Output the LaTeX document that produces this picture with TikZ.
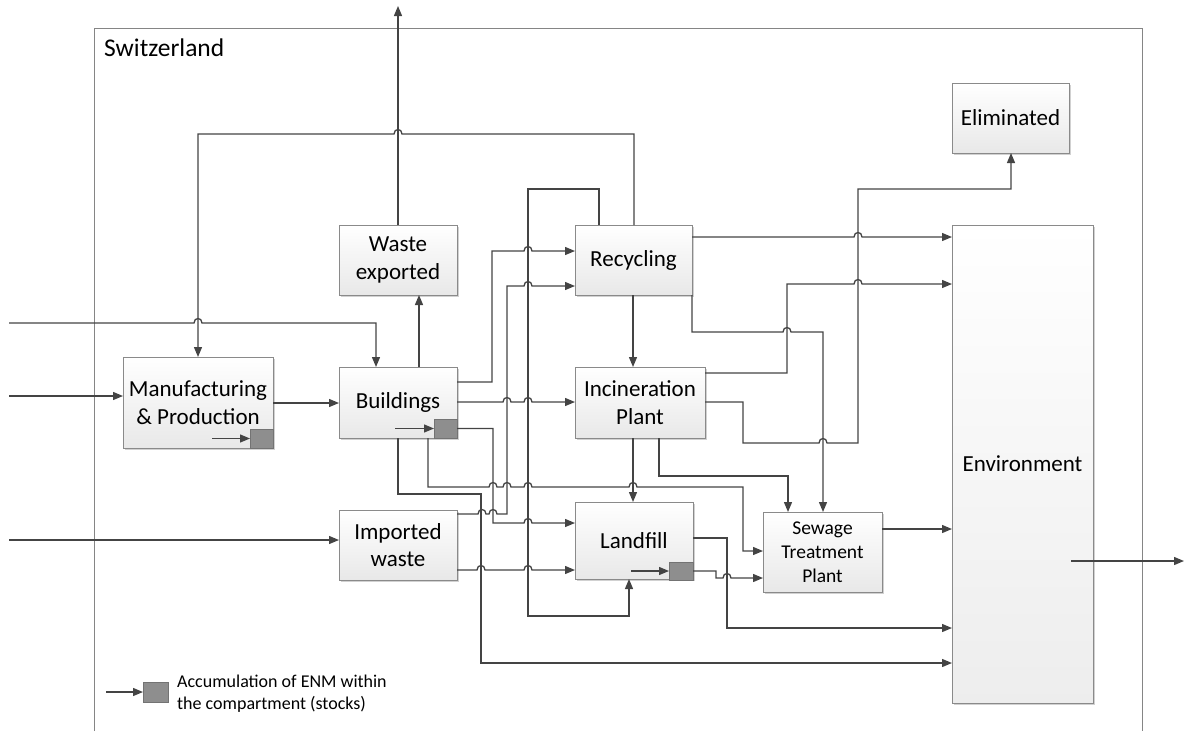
\documentclass[tikz,border=0pt]{standalone}
\usepackage{fontspec}
\setmainfont{Carlito}
\usetikzlibrary{arrows.meta,shadows}
\definecolor{ln}{HTML}{444444}
\definecolor{bd}{HTML}{8A8A8A}
\definecolor{stk}{HTML}{8E8E8E}
\definecolor{frm}{HTML}{858585}
\newcommand\hopr[2]{-- (#1-4,#2) .. controls (#1-4,#2-6) and (#1+4,#2-6) .. (#1+4,#2)}
\newcommand\hopl[2]{-- (#1+4,#2) .. controls (#1+4,#2-6) and (#1-4,#2-6) .. (#1-4,#2)}
\begin{document}
\begin{tikzpicture}[x=1pt,y=-1pt,
  box/.style={draw=bd,line width=0.9pt,top color=white,bottom color=black!9,
    anchor=north west,outer sep=0pt,inner sep=2pt,align=center,
    font=\fontsize{23}{27.5}\selectfont,
    drop shadow={shadow xshift=1.5pt,shadow yshift=-1.5pt,opacity=0.18,fill=black}},
  stock/.style={draw=black!55,fill=stk,line width=0.8pt,anchor=north west,
    minimum width=23pt,minimum height=19pt,inner sep=0pt,outer sep=0pt},
  flow/.style={draw=ln,line width=1.3pt,-{Triangle[length=10pt,width=8pt]}}]
\useasboundingbox (0,0) rectangle (1185,731);
% frame
\draw[frm,line width=1pt] (94,731) -- (94,28) -- (1142,28) -- (1142,731);
\node[anchor=base west,font=\fontsize{25.5}{30}\selectfont,inner sep=0pt] (ch) at (104,56) {Switzerland};
% boxes
\node[box,minimum width=150pt,minimum height=91pt] (mfg) at (123,357) {Manufacturing\\\& Production};
\node[box,minimum width=118pt,minimum height=71pt] (bld) at (339,367) {Buildings};
\node[box,minimum width=118pt,minimum height=70pt] (wex) at (339,225) {Waste\\exported};
\node[box,minimum width=118pt,minimum height=70pt] (imp) at (339,510) {Imported\\waste};
\node[box,minimum width=117pt,minimum height=70pt] (rec) at (575,225) {Recycling};
\node[box,minimum width=130pt,minimum height=71pt] (inc) at (575,367) {Incineration\\Plant};
\node[box,minimum width=118pt,minimum height=77pt] (lf) at (575,502) {Landfill};
\node[box,minimum width=119pt,minimum height=80pt,font=\fontsize{19.5}{24}\selectfont] (stp) at (763,512) {Sewage\\Treatment\\Plant};
\node[box,minimum width=141pt,minimum height=478pt,top color=white,bottom color=black!7] (env) at (952,225) {Environment};
\node[box,minimum width=117pt,minimum height=70pt] (elim) at (952,83) {Eliminated};
% stocks
\node[stock] (sMfg) at (250,429) {};
\node[stock] (sBld) at (434,419) {};
\node[stock,minimum width=24pt,minimum height=18pt] (sLf) at (669,562) {};
\node[stock,minimum width=25pt,minimum height=20pt] (sLeg) at (143,682) {};
\node[anchor=west,align=left,inner sep=0pt,font=\fontsize{18}{22}\selectfont] (legt) at (177,694) {Accumulation of ENM within\\the compartment (stocks)};
% free ends
\coordinate (i1) at (9,323);
\coordinate (i2) at (9,396);
\coordinate (i3) at (9,540);
\coordinate (to) at (398,6);
\coordinate (eo) at (1071,561);
\coordinate (eoe) at (1184,561);
\coordinate (a1) at (212,438.5);
\coordinate (a2) at (395,428.5);
\coordinate (a3) at (631,571);
\coordinate (a4) at (106,692);
% stock arrows
\draw[flow] (a1) -- (sMfg.west);
\draw[flow] (a2) -- (sBld.west);
\draw[flow] (a3) -- (sLf.west);
\draw[flow] (a4) -- (sLeg.west);
% connectors
\draw[flow] (i1) \hopr{198}{323} -- (376,323) -- (bld.north -| 376,0);
\draw[flow] (i2) -- (mfg.west |- i2);
\draw[flow] (i3) -- (imp.west |- i3);
\draw[flow] (mfg.east |- 0,403) -- (bld.west |- 0,403);
\draw[flow] (rec.north -| 634,0) -- (634,134) \hopl{398}{134} -- (198,134) -- (mfg.north -| 198,0);
\draw[flow] (wex.north -| 398,0) -- (to);
\draw[flow] (bld.north -| 419,0) -- (wex.south -| 419,0);
\draw[flow] (bld.east |- 0,382) -- (492,382) -- (492,251) \hopr{528}{251} -- (rec.west |- 0,251);
\draw[flow] (imp.east |- 0,514) \hopr{482}{514} \hopr{493}{514} -- (507,514) -- (507,286) \hopr{528}{286} -- (rec.west |- 0,286);
\draw[flow] (bld.east |- 0,402) \hopr{507}{402} \hopr{528}{402} -- (inc.west |- 0,402);
\draw[flow] (sBld.east) -- (493,428.5) -- (493,523) \hopr{528}{523} -- (lf.west |- 0,523);
\draw[flow] (bld.south -| 398,0) -- (398,494) -- (481,494) -- (481,663) -- (env.west |- 0,663);
\draw[flow] (bld.south -| 428,0) -- (428,487) \hopr{493}{487} \hopr{507}{487} \hopr{528}{487} \hopr{633}{487} -- (743,487) -- (743,551) -- (stp.west |- 0,551);
\draw[flow] (imp.east |- 0,570) \hopr{481}{570} \hopr{528}{570} -- (lf.west |- 0,570);
\draw[flow] (rec.east |- 0,237) \hopr{858}{237} -- (env.west |- 0,237);
\draw[flow] (rec.south -| 633,0) -- (inc.north -| 633,0);
\draw[flow] (rec.south east) -- (692,332) \hopr{787}{332} -- (823,332) -- (stp.north -| 823,0);
\draw[flow] (inc.east |- 0,373) -- (787,373) -- (787,284) \hopr{858}{284} -- (env.west |- 0,284);
\draw[flow] (inc.east |- 0,402) -- (743,402) -- (743,443) \hopr{823}{443} -- (858,443) -- (858,189) -- (1011,189) -- (elim.south -| 1011,0);
\draw[flow] (inc.south -| 633,0) -- (lf.north -| 633,0);
\draw[flow] (inc.south -| 659,0) -- (659,476) -- (788,476) -- (stp.north -| 788,0);
\draw[flow] (lf.east |- 0,538) -- (727,538) -- (727,628) -- (env.west |- 0,628);
\draw[flow] (sLf.east) -- (716,571) -- (716,578) \hopr{727}{578} -- (stp.west |- 0,578);
\draw[flow] (rec.north -| 599,0) -- (599,189) -- (528,189) -- (528,616) -- (629,616) -- (lf.south -| 629,0);
\draw[flow] (stp.east |- 0,529) -- (env.west |- 0,529);
\draw[flow] (eo) -- (eoe);
\end{tikzpicture}
\end{document}
